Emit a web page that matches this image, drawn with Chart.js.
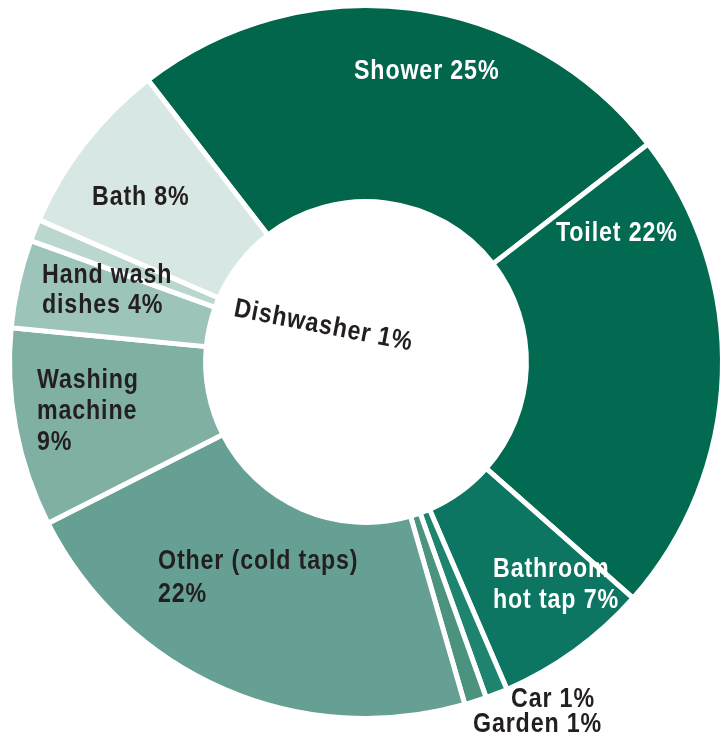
<!DOCTYPE html>
<html>
<head>
<meta charset="utf-8">
<script src="https://cdn.jsdelivr.net/npm/chart.js@4"></script>
<style>
  html, body { margin: 0; padding: 0; background: #ffffff; }
  #wrap { width: 727px; height: 740px; }
</style>
</head>
<body>
<div id="wrap"><canvas id="waterChart" width="727" height="740"></canvas></div>
<script>
// household water use, percent
const categories = ['Shower', 'Toilet', 'Bathroom hot tap', 'Car', 'Garden',
    'Other (cold taps)', 'Washing machine', 'Hand wash dishes', 'Dishwasher', 'Bath'];
const shares = [25, 22, 7, 1, 1, 22, 9, 4, 1, 8];
const sliceColors = ['#02664c', '#016a51', '#0d7663', '#1e8470', '#4b937f',
    '#66a094', '#80b0a4', '#9cc4ba', '#b9d6cf', '#d7e7e3'];

// label text lines, one entry per slice
const labelLines = [
    ['Shower 25%'],
    ['Toilet 22%'],
    ['Bathroom', 'hot tap 7%'],
    ['Car 1%'],
    ['Garden 1%'],
    ['Other (cold taps)', '22%'],
    ['Washing', 'machine', '9%'],
    ['Hand wash', 'dishes 4%'],
    ['Dishwasher 1%'],
    ['Bath 8%']
];

// where each label sits, offset from the chart centre (left edge, first baseline)
const labelPlace = [
    { dx: -12, dy: -283, color: '#ffffff' },
    { dx: 190, dy: -121, color: '#ffffff' },
    { dx: 127, dy: 215, color: '#ffffff' },
    { dx: 145, dy: 345, color: '#231f20' },
    { dx: 107, dy: 370, color: '#231f20' },
    { dx: -208, dy: 207, color: '#231f20', lh: 33 },
    { dx: -329, dy: 26, color: '#231f20' },
    { dx: -324, dy: -79, color: '#231f20', lh: 30 },
    { dx: -133, dy: -46, color: '#231f20', rot: 11 },
    { dx: -274, dy: -157, color: '#231f20' }
];

// squeeze the bold sans a little so it reads like the condensed face
const squeeze = 0.86;

const sliceLabels = {
    id: 'sliceLabels',
    afterDraw(chart) {
        const ctx = chart.ctx;
        const arc = chart.getDatasetMeta(0).data[0];
        const cx = arc.x, cy = arc.y;
        ctx.save();
        ctx.font = 'bold 27px "Liberation Sans", Arial, sans-serif';
        ctx.letterSpacing = '1px';
        ctx.textAlign = 'left';
        ctx.textBaseline = 'alphabetic';
        labelLines.forEach((lines, i) => {
            const p = labelPlace[i];
            const lh = p.lh || 31;
            ctx.save();
            ctx.translate(cx + p.dx, cy + p.dy);
            if (p.rot) ctx.rotate(p.rot * Math.PI / 180);
            ctx.scale(squeeze, 1);
            ctx.fillStyle = p.color;
            lines.forEach((t, j) => ctx.fillText(t, 0, j * lh));
            ctx.restore();
        });
        ctx.restore();
    }
};

new Chart(document.getElementById('waterChart'), {
    type: 'doughnut',
    data: {
        labels: categories,
        datasets: [{
            data: shares,
            backgroundColor: sliceColors,
            borderColor: '#ffffff',
            borderWidth: 5
        }]
    },
    options: {
        responsive: false,
        devicePixelRatio: 1,
        animation: false,
        rotation: -37.7,
        cutout: '45%',
        layout: { padding: { left: 7, right: 2, top: 3, bottom: 19 } },
        plugins: {
            legend: { display: false },
            tooltip: { enabled: false }
        }
    },
    plugins: [sliceLabels]
});
</script>
</body>
</html>
